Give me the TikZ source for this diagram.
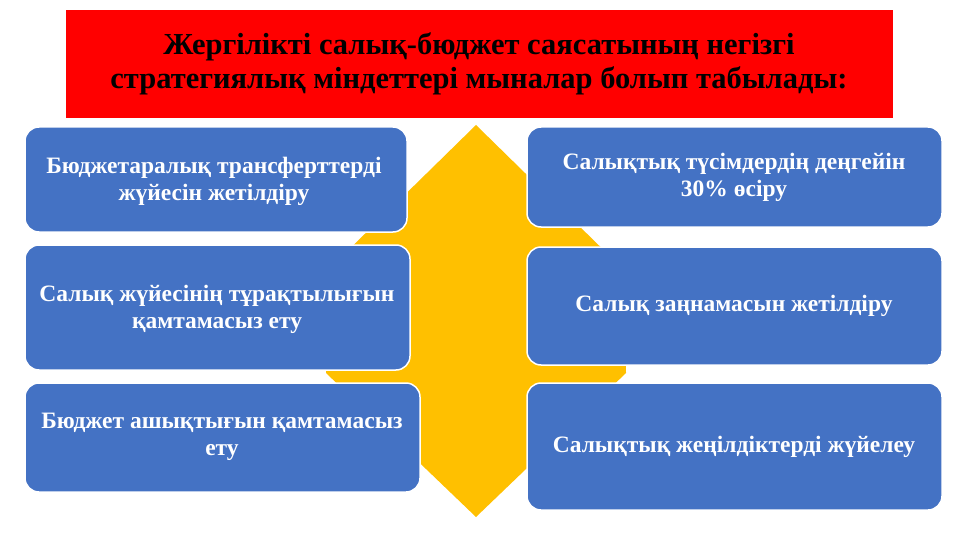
\documentclass[tikz,border=0pt]{standalone}
\usepackage{fontspec}
\setmainfont{Liberation Serif}
\begin{document}
\begin{tikzpicture}[x=1pt,y=-1pt,
 bx/.style={fill=boxblue,draw=white,line width=1.5pt,rounded corners=14pt},
 tx/.style={text=white,font=\bfseries\fontsize{23.5}{27}\selectfont,align=center}]
\definecolor{boxblue}{HTML}{4472C4}
\definecolor{gold}{HTML}{FFC000}
\useasboundingbox (0,0) rectangle (960,540);
\fill[white] (0,0) rectangle (960,540);
\fill[red] (66,10) rectangle (893,118);
\node[font=\bfseries\fontsize{30.5}{34}\selectfont,align=center] (t) at (479,64) {Жергілікті салық-бюджет саясатының негізгі\\стратегиялық міндеттері мыналар болып табылады:};
\fill[gold] (476,125) -- (624,270) -- (626,373) -- (476,517) -- (326,373) -- (328,270) -- cycle;
\draw[bx] (25,127) rectangle (407,232);
\draw[bx] (25,245) rectangle (410,370);
\draw[bx] (25,383) rectangle (420,492);
\draw[bx] (527,127) rectangle (942,227);
\draw[bx] (527,247) rectangle (942,365);
\draw[bx] (527,383) rectangle (942,510);
\node[tx] (l1) at (214,181) {Бюджетаралық трансферттерді\\жүйесін жетілдіру};
\node[tx] (l2) at (217,309) {Салық жүйесінің тұрақтылығын\\қамтамасыз ету};
\node[tx] (l3) at (222,437) {Бюджет ашықтығын қамтамасыз\\ету};
\node[tx] (r1) at (734,177) {Салықтық түсімдердің деңгейін\\30\% өсіру};
\node[tx] (r2) at (734,306) {Салық заңнамасын жетілдіру};
\node[tx] (r3) at (734,447) {Салықтық жеңілдіктерді жүйелеу};
\end{tikzpicture}
\end{document}
